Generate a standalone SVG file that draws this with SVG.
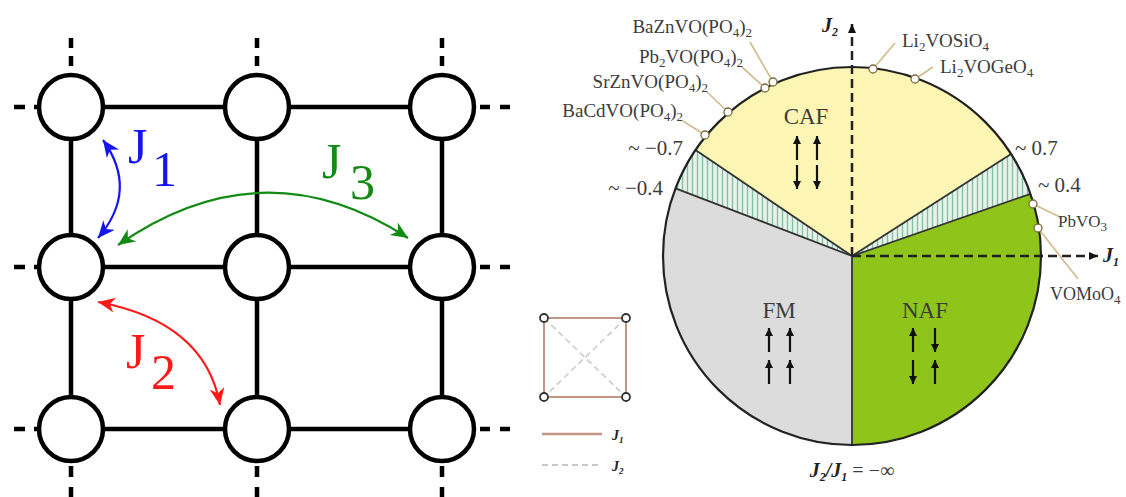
<svg xmlns="http://www.w3.org/2000/svg" width="1126" height="497" viewBox="0 0 1126 497">
<style>
.edge{stroke:#000;stroke-width:4.5;fill:none}
.stub{stroke:#000;stroke-width:4.5;fill:none}
.node{fill:#fff;stroke:#000;stroke-width:4.5}
.jl{font-family:"Liberation Serif",serif;font-size:50px}
.lab{font-family:"Liberation Serif",serif;fill:#3c3c3c}
.mat{font-size:19px}
.sub{font-size:13px}
.num{font-size:21px}
.reg{font-size:23px;text-anchor:middle}
.ax{font-family:"Liberation Serif",serif;font-style:italic;font-weight:bold;fill:#222}
.bnd{stroke:#333;stroke-width:1.8;fill:none}
.lead{stroke:#d2bc90;stroke-width:1.7;fill:none}
.dot{fill:#fff;stroke:#7a6a40;stroke-width:1.3}
.axis{stroke:#222;stroke-width:2.5;stroke-dasharray:9 5;fill:none}
.spin{stroke:#111;stroke-width:2.2;fill:none;marker-end:url(#sa)}
</style>
<defs>
<marker id="ab" markerUnits="userSpaceOnUse" markerWidth="19" markerHeight="16" refX="17" refY="7.5" orient="auto-start-reverse"><path d="M0,0 L17,7.5 L0,15 L5,7.5 Z" fill="#1515f0"/></marker>
<marker id="ag" markerUnits="userSpaceOnUse" markerWidth="19" markerHeight="16" refX="17" refY="7.5" orient="auto-start-reverse"><path d="M0,0 L17,7.5 L0,15 L5,7.5 Z" fill="#138a13"/></marker>
<marker id="ar" markerUnits="userSpaceOnUse" markerWidth="19" markerHeight="16" refX="17" refY="7.5" orient="auto-start-reverse"><path d="M0,0 L17,7.5 L0,15 L5,7.5 Z" fill="#ff1a1a"/></marker>
<marker id="ak" markerUnits="userSpaceOnUse" markerWidth="10" markerHeight="10" refX="9" refY="4" orient="auto"><path d="M0,0 L9,4 L0,8 Z" fill="#111"/></marker>
<marker id="sa" markerUnits="userSpaceOnUse" markerWidth="10" markerHeight="10" refX="8" refY="4" orient="auto"><path d="M0,0 L8,4 L0,8 Z" fill="#111"/></marker>
<pattern id="hatch" patternUnits="userSpaceOnUse" width="5" height="10"><rect width="5" height="10" fill="#e6f3ea"/><line x1="2.5" y1="0" x2="2.5" y2="10" stroke="#86bca2" stroke-width="1.3"/></pattern>
</defs>
<rect width="1126" height="497" fill="#fff"/>

<g id="lattice-connectors">
<line class="edge" x1="71" y1="107" x2="442" y2="107"/>
<line class="edge" x1="71" y1="267" x2="442" y2="267"/>
<line class="edge" x1="71" y1="429" x2="442" y2="429"/>
<line class="edge" x1="71" y1="107" x2="71" y2="429"/>
<line class="edge" x1="257" y1="107" x2="257" y2="429"/>
<line class="edge" x1="442" y1="107" x2="442" y2="429"/>
<g stroke-dasharray="10 8">
<line class="stub" x1="71" y1="38" x2="71" y2="70"/>
<line class="stub" x1="257" y1="38" x2="257" y2="70"/>
<line class="stub" x1="442" y1="38" x2="442" y2="70"/>
</g>
<g stroke-dasharray="11 10">
<line class="stub" x1="71" y1="466" x2="71" y2="497"/>
<line class="stub" x1="257" y1="466" x2="257" y2="497"/>
<line class="stub" x1="442" y1="466" x2="442" y2="497"/>
</g>
<g stroke-dasharray="11 9">
<line class="stub" x1="14" y1="107" x2="40" y2="107"/>
<line class="stub" x1="14" y1="267" x2="40" y2="267"/>
<line class="stub" x1="14" y1="429" x2="40" y2="429"/>
</g>
<g stroke-dasharray="10 10">
<line class="stub" x1="480" y1="107" x2="512" y2="107"/>
<line class="stub" x1="480" y1="267" x2="512" y2="267"/>
<line class="stub" x1="480" y1="429" x2="512" y2="429"/>
</g>
</g>

<g id="n11"><circle class="node" cx="71" cy="107" r="32"/></g>
<g id="n12"><circle class="node" cx="257" cy="107" r="32"/></g>
<g id="n13"><circle class="node" cx="442" cy="107" r="32"/></g>
<g id="n21"><circle class="node" cx="71" cy="267" r="32"/></g>
<g id="n22"><circle class="node" cx="257" cy="267" r="32"/></g>
<g id="n23"><circle class="node" cx="442" cy="267" r="32"/></g>
<g id="n31"><circle class="node" cx="71" cy="429" r="32"/></g>
<g id="n32"><circle class="node" cx="257" cy="429" r="32"/></g>
<g id="n33"><circle class="node" cx="442" cy="429" r="32"/></g>

<g id="couplings" fill="none" stroke-width="2.2">
<path d="M103,140 Q139,190 98,238" stroke="#1515f0" marker-start="url(#ab)" marker-end="url(#ab)"/>
<path d="M118,245 Q263,144 408,238" stroke="#138a13" marker-start="url(#ag)" marker-end="url(#ag)"/>
<path d="M98,302 Q205,322 220,405" stroke="#ff1a1a" marker-start="url(#ar)" marker-end="url(#ar)"/>
</g>
<g id="coupling-labels">
<text class="jl" x="128" y="163" fill="#1515f0">J</text><text class="jl" x="152" y="186" fill="#1515f0">1</text>
<text class="jl" x="322" y="178" fill="#138a13">J</text><text class="jl" x="350" y="199" fill="#138a13">3</text>
<text class="jl" x="126" y="368" fill="#ff1a1a">J</text><text class="jl" x="151" y="389" fill="#ff1a1a">2</text>
</g>

<g id="phase-diagram">
<path id="caf" d="M852,256 L1011.1,154 A189,189 0 0 0 695.5,150 Z" fill="#fcf5b3"/>
<path id="hatch-right" d="M852,256 L1030.5,193.8 A189,189 0 0 0 1011.1,154 Z" fill="url(#hatch)"/>
<path id="naf" d="M852,256 L852,445 A189,189 0 0 0 1030.5,193.8 Z" fill="#8fc41a"/>
<path id="fm" d="M852,256 L675.5,188.4 A189,189 0 0 0 852,445 Z" fill="#dcdcdc"/>
<path id="hatch-left" d="M852,256 L695.5,150 A189,189 0 0 0 675.5,188.4 Z" fill="url(#hatch)"/>
<g>
<line class="bnd" x1="852" y1="256" x2="1011.1" y2="154"/>
<line class="bnd" x1="852" y1="256" x2="1030.5" y2="193.8"/>
<line class="bnd" x1="852" y1="256" x2="695.5" y2="150"/>
<line class="bnd" x1="852" y1="256" x2="675.5" y2="188.4"/>
<line class="bnd" x1="852" y1="256" x2="852" y2="445"/>
</g>
<circle cx="852" cy="256" r="189" fill="none" stroke="#222" stroke-width="2.2"/>
</g>

<g id="axes">
<line class="axis" x1="852" y1="256" x2="852" y2="24" marker-end="url(#ak)"/>
<line class="axis" x1="852" y1="256" x2="1098" y2="256" marker-end="url(#ak)"/>
<text class="ax" x="822" y="32" font-size="20">J<tspan font-size="12" dy="4">2</tspan></text>
<text class="ax" x="1103" y="262" font-size="20">J<tspan font-size="12" dy="4">1</tspan></text>
</g>

<g id="regions">
<g id="caf-label">
<text class="lab reg" x="806" y="124">CAF</text>
<line class="spin" x1="797" y1="160" x2="797" y2="136"/>
<line class="spin" x1="817" y1="160" x2="817" y2="136"/>
<line class="spin" x1="797" y1="165" x2="797" y2="189"/>
<line class="spin" x1="817" y1="165" x2="817" y2="189"/>
</g>
<g id="fm-label">
<text class="lab reg" x="779" y="318">FM</text>
<line class="spin" x1="769" y1="352" x2="769" y2="328"/>
<line class="spin" x1="790" y1="352" x2="790" y2="328"/>
<line class="spin" x1="769" y1="384" x2="769" y2="360"/>
<line class="spin" x1="790" y1="384" x2="790" y2="360"/>
</g>
<g id="naf-label">
<text class="lab reg" x="925" y="318">NAF</text>
<line class="spin" x1="913" y1="352" x2="913" y2="328"/>
<line class="spin" x1="935" y1="328" x2="935" y2="352"/>
<line class="spin" x1="913" y1="360" x2="913" y2="384"/>
<line class="spin" x1="935" y1="384" x2="935" y2="360"/>
</g>
</g>

<g id="boundary-labels" class="lab">
<text class="num" x="683" y="155" text-anchor="end">~ −0.7</text>
<text class="num" x="663" y="195" text-anchor="end">~ −0.4</text>
<text class="num" x="1015" y="155">~ 0.7</text>
<text class="num" x="1038" y="192">~ 0.4</text>
</g>

<g id="materials">
<g class="lead">
<line x1="750" y1="42" x2="773" y2="82"/>
<line x1="742" y1="67" x2="765" y2="88"/>
<line x1="707" y1="92" x2="728" y2="112"/>
<line x1="683" y1="121" x2="705" y2="135"/>
<line x1="895" y1="43" x2="873" y2="69"/>
<line x1="933" y1="67" x2="915" y2="79"/>
<line x1="1033" y1="204" x2="1062" y2="218"/>
<line x1="1038" y1="228" x2="1078" y2="279"/>
</g>
<circle class="dot" cx="773" cy="82" r="4"/>
<circle class="dot" cx="765" cy="88" r="4"/>
<circle class="dot" cx="728" cy="112" r="4"/>
<circle class="dot" cx="705" cy="135" r="4"/>
<circle class="dot" cx="873" cy="69" r="4"/>
<circle class="dot" cx="915" cy="79" r="4"/>
<circle class="dot" cx="1033" cy="204" r="4"/>
<circle class="dot" cx="1038" cy="228" r="4"/>
<g class="lab mat">
<text x="752" y="33" text-anchor="end">BaZnVO(PO<tspan class="sub" dy="4">4</tspan><tspan dy="-4">)</tspan><tspan class="sub" dy="4">2</tspan></text>
<text x="743" y="63" text-anchor="end">Pb<tspan class="sub" dy="4">2</tspan><tspan dy="-4">VO(PO</tspan><tspan class="sub" dy="4">4</tspan><tspan dy="-4">)</tspan><tspan class="sub" dy="4">2</tspan></text>
<text x="708" y="88" text-anchor="end">SrZnVO(PO<tspan class="sub" dy="4">4</tspan><tspan dy="-4">)</tspan><tspan class="sub" dy="4">2</tspan></text>
<text x="683" y="117" text-anchor="end">BaCdVO(PO<tspan class="sub" dy="4">4</tspan><tspan dy="-4">)</tspan><tspan class="sub" dy="4">2</tspan></text>
<text x="902" y="47">Li<tspan class="sub" dy="4">2</tspan><tspan dy="-4">VOSiO</tspan><tspan class="sub" dy="4">4</tspan></text>
<text x="940" y="73">Li<tspan class="sub" dy="4">2</tspan><tspan dy="-4">VOGeO</tspan><tspan class="sub" dy="4">4</tspan></text>
<text x="1058" y="227" font-size="17">PbVO<tspan class="sub" dy="4">3</tspan></text>
<text x="1050" y="300" font-size="18">VOMoO<tspan class="sub" dy="4">4</tspan></text>
</g>
</g>

<g id="limit-label">
<text class="lab" x="852" y="477" font-size="20" text-anchor="middle"><tspan class="ax">J</tspan><tspan class="ax" font-size="12" dy="4">2</tspan><tspan class="ax" dy="-4">/J</tspan><tspan class="ax" font-size="12" dy="4">1</tspan><tspan dy="-4"> = −∞</tspan></text>
</g>

<g id="legend">
<line x1="544" y1="318" x2="626" y2="318" stroke="#c49484" stroke-width="2"/>
<line x1="544" y1="397" x2="626" y2="397" stroke="#c49484" stroke-width="2"/>
<line x1="544" y1="318" x2="544" y2="397" stroke="#c49484" stroke-width="2"/>
<line x1="626" y1="318" x2="626" y2="397" stroke="#c49484" stroke-width="2"/>
<line x1="544" y1="318" x2="626" y2="397" stroke="#c8c8c8" stroke-width="1.5" stroke-dasharray="6 4"/>
<line x1="626" y1="318" x2="544" y2="397" stroke="#c8c8c8" stroke-width="1.5" stroke-dasharray="6 4"/>
<circle cx="544" cy="318" r="4" fill="#fff" stroke="#333" stroke-width="1.8"/>
<circle cx="626" cy="318" r="4" fill="#fff" stroke="#333" stroke-width="1.8"/>
<circle cx="544" cy="397" r="4" fill="#fff" stroke="#333" stroke-width="1.8"/>
<circle cx="626" cy="397" r="4" fill="#fff" stroke="#333" stroke-width="1.8"/>
<line x1="542" y1="434" x2="602" y2="434" stroke="#c49484" stroke-width="2.5"/>
<line x1="542" y1="465" x2="602" y2="465" stroke="#c8c8c8" stroke-width="1.8" stroke-dasharray="6 4"/>
<text class="ax" x="612" y="440" font-size="14">J<tspan font-size="9" dy="3">1</tspan></text>
<text class="ax" x="612" y="471" font-size="14">J<tspan font-size="9" dy="3">2</tspan></text>
</g>
</svg>
